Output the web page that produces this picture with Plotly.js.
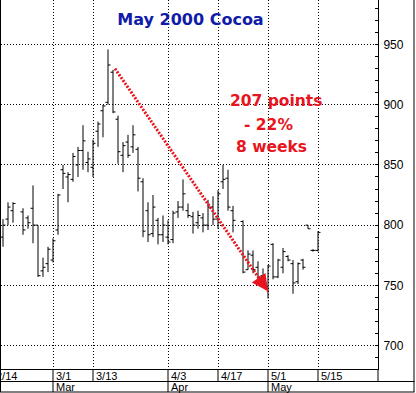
<!DOCTYPE html>
<html><head><meta charset="utf-8">
<script src="https://cdn.plot.ly/plotly-3.0.1.min.js"></script>
<style>html,body{margin:0;padding:0;background:#fff;overflow:hidden}#chart{width:416px;height:393px}</style>
</head><body><div id="chart"></div>
<script>
// ---- data (May 2000 Cocoa daily bars) ----
const dates = ['2000-02-16','2000-02-17','2000-02-18','2000-02-22','2000-02-23','2000-02-24','2000-02-25','2000-02-28','2000-02-29',
 '2000-03-01','2000-03-02','2000-03-03','2000-03-06','2000-03-07','2000-03-08','2000-03-09','2000-03-10','2000-03-13','2000-03-14','2000-03-15','2000-03-16','2000-03-17',
 '2000-03-20','2000-03-21','2000-03-22','2000-03-23','2000-03-24','2000-03-27','2000-03-28','2000-03-29','2000-03-30','2000-03-31',
 '2000-04-03','2000-04-04','2000-04-05','2000-04-06','2000-04-07','2000-04-10','2000-04-11','2000-04-12','2000-04-13','2000-04-14',
 '2000-04-17','2000-04-18','2000-04-19','2000-04-20','2000-04-24','2000-04-25','2000-04-26','2000-04-27','2000-04-28',
 '2000-05-01','2000-05-02','2000-05-03','2000-05-04','2000-05-05','2000-05-08','2000-05-09','2000-05-10','2000-05-11','2000-05-12','2000-05-15'];
const opens  = [790,805,812,811,806,814,800,762,768, 771,796,846,840,838,850,862,852,848,878,895,902,927, 888,858,869,865,863,836,812,793,804,792, 790,788,811,815,812,807,802,806,800,815, 805,836,839,812,803,763,775,765,758, 749,784,757,765,774,768,753,771,800,779,779];
const highs  = [805,819,819,814,808,833,800,773,782, 789,826,850,844,860,865,883,861,871,886,900,946,929, 891,869,875,883,865,839,819,825,806,808, 804,812,820,838,818,811,812,810,821,824, 829,850,846,816,804,779,779,770,764, 767,785,772,781,775,771,769,772,800,780,795];
const lows   = [782,800,802,792,797,785,757,757,761, 769,792,830,819,836,840,846,844,840,865,873,900,893, 851,844,856,860,828,790,786,790,784,786, 784,785,806,812,806,793,797,794,796,800, 797,830,812,794,760,763,760,755,752, 739,755,756,760,770,743,751,763,797,778,778];
const closes = [800,815,818,796,802,800,758,765,780, 787,825,843,842,857,862,870,855,868,884,899,933,894, 861,866,858,875,839,795,792,815,792,800, 786,810,815,826,808,800,808,800,815,805, 826,838,815,804,761,776,763,757,755, 766,757,771,778,771,752,768,765,797,779,794];

const tickDates  = ['2000-02-14','2000-03-01','2000-03-13','2000-04-03','2000-04-17','2000-05-01','2000-05-15'];
const tickLabels = ['2/14','3/1','3/13','4/3','4/17','5/1','5/15'];
const monthStarts = ['2000-03-01','2000-04-03','2000-05-01'];
const monthLabels = ['Mar','Apr','May'];
const yTicks = [700,750,800,850,900,950];
const xRange = ['2000-02-15 14:24','2000-05-31'];
const yRange = [680.5,987];
const arrowFrom = ['2000-03-17 09:36', 930];
const arrowTo   = ['2000-05-01', 745];
const noteLines = ['207 points','- 22%','8 weeks'];
const titleText = 'May 2000 Cocoa';

// ---- layout helpers ----
const W=416, H=393, M={l:1,r:38,t:0,b:24};
const PW=W-M.l-M.r, PH=H-M.t-M.b;
const px2x = px => (px - M.l)/PW;
const py2y = py => (M.t + PH - py)/PH;
const RED='#e8141e', BLUE='#0f1ca8';
const AXF={family:'Liberation Sans, Arial, sans-serif', size:11, color:'#000'};
const row1Bottom = py2y(381.5), frameBottom = py2y(392);

const shapes = [];
const annotations = [];

// arrow (dotted line + head)
shapes.push({type:'line', xref:'x', yref:'y', x0:arrowFrom[0], y0:arrowFrom[1], x1:arrowTo[0], y1:arrowTo[1],
  line:{color:RED, width:3, dash:'2px,1.5px'}, layer:'above'});
annotations.push({xref:'x', yref:'y', x:arrowTo[0], y:arrowTo[1], ax:-7, ay:-10.2, text:'', showarrow:true,
  arrowhead:2, arrowsize:1.1, arrowwidth:3, arrowcolor:RED});

// note text
const notePos = [[276,101],[268.5,125],[271.5,147]];
noteLines.forEach((t,i)=>annotations.push({xref:'paper', yref:'paper', x:px2x(notePos[i][0]), y:py2y(notePos[i][1]),
  xanchor:'center', yanchor:'middle', showarrow:false, text:'<b>'+t+'</b>',
  font:{family:'DejaVu Sans, Verdana, sans-serif', size:15.5, color:RED}}));

// axis label rows
tickDates.forEach((d,i)=>{
  shapes.push({type:'line', xref:'x', yref:'paper', x0:d, x1:d, y0:0, y1:row1Bottom, line:{color:'#000', width:1}});
  const off = d < xRange[0];
  annotations.push({xref: off ? 'paper' : 'x', yref:'paper', x: off ? px2x(-6.5) : d, y:py2y(375.5), xanchor:'left', yanchor:'middle',
    xshift: off ? 0 : 1, showarrow:false, text:tickLabels[i], font:AXF});
});
monthStarts.forEach((d,i)=>{
  shapes.push({type:'line', xref:'x', yref:'paper', x0:d, x1:d, y0:row1Bottom, y1:frameBottom, line:{color:'#000', width:1}});
  annotations.push({xref:'x', yref:'paper', x:d, y:py2y(387), xanchor:'left', yanchor:'middle', xshift:1,
    showarrow:false, text:monthLabels[i], font:AXF});
});
// frame & row lines
shapes.push({type:'line', xref:'paper', yref:'paper', x0:px2x(0), x1:px2x(414.5), y0:row1Bottom, y1:row1Bottom, line:{color:'#000', width:1}});
shapes.push({type:'line', xref:'paper', yref:'paper', x0:px2x(0), x1:px2x(414.5), y0:frameBottom, y1:frameBottom, line:{color:'#000', width:1}});
shapes.push({type:'line', xref:'paper', yref:'paper', x0:1, x1:1, y0:0, y1:row1Bottom, line:{color:'#000', width:1}});
shapes.push({type:'line', xref:'paper', yref:'paper', x0:px2x(0.5), x1:px2x(0.5), y0:1, y1:frameBottom, line:{color:'#000', width:1}});
shapes.push({type:'line', xref:'paper', yref:'paper', x0:px2x(414), x1:px2x(414), y0:1, y1:frameBottom, line:{color:'#000', width:1}});

const trace = {type:'ohlc', x:dates, open:opens, high:highs, low:lows, close:closes,
  increasing:{line:{color:'#000', width:1}}, decreasing:{line:{color:'#000', width:1}},
  tickwidth:0.5, hoverinfo:'skip', showlegend:false};

const layout = {
  width:W, height:H, margin:M, paper_bgcolor:'#fff', plot_bgcolor:'#fff', showlegend:false,
  title:{text:'<b>'+titleText+'</b>', font:{family:'DejaVu Sans, Verdana, sans-serif', size:16, color:BLUE},
    xref:'container', yref:'container', x:190.5/W, y:1-19/H, xanchor:'center', yanchor:'middle'},
  xaxis:{type:'date', range:xRange, rangebreaks:[{bounds:['sat','mon']}], rangeslider:{visible:false},
    tickmode:'array', tickvals:tickDates, showticklabels:false, ticks:'',
    showgrid:true, gridcolor:'#000', gridwidth:1, griddash:'1px,2px', showline:true, linecolor:'#000', linewidth:1,
    zeroline:false, fixedrange:true},
  yaxis:{side:'right', range:yRange, tickmode:'array', tickvals:yTicks, ticks:'inside', ticklen:3, tickcolor:'#000',
    showgrid:true, gridcolor:'#000', gridwidth:1, griddash:'1px,2px', showline:true, linecolor:'#000', linewidth:1,
    minor:{dtick:10, tick0:700, ticks:'inside', ticklen:3, tickcolor:'#000', showgrid:false},
    tickfont:{family:'Liberation Sans, Arial, sans-serif', size:12, color:'#000'}, ticklabelstandoff:2,
    zeroline:false, fixedrange:true},
  shapes:shapes, annotations:annotations
};
Plotly.newPlot('chart', [trace], layout, {staticPlot:true, displayModeBar:false});
</script></body></html>
